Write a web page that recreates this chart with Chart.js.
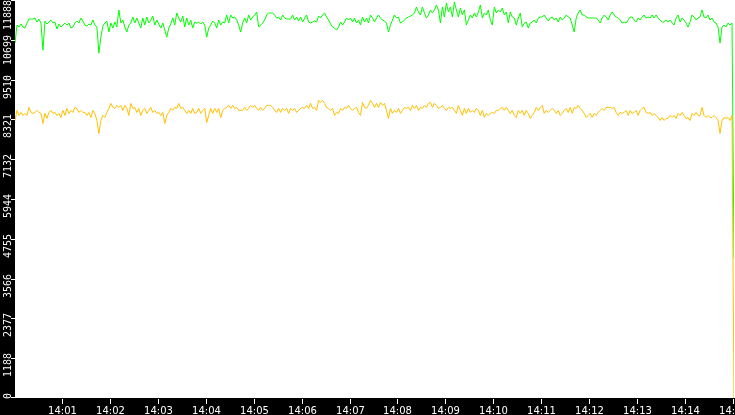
<!DOCTYPE html>
<html>
<head>
<meta charset="utf-8">
<script src="https://cdn.jsdelivr.net/npm/chart.js@4.4.1/dist/chart.umd.min.js"></script>
<style>
html,body{margin:0;padding:0;background:#fff;overflow:hidden;}
canvas{display:block;}
</style>
</head>
<body>
<canvas id="c" width="735" height="415"></canvas>
<script>
// ---- data ----
const startTime = '14:00:00';
const sampleSeconds = 2.5;
const yTickLabels = ['0','1188','2377','3566','4755','5944','7132','8321','9510','10699','11888'];
const xTickLabels = ['14:01','14:02','14:03','14:04','14:05','14:06','14:07','14:08','14:09','14:10','14:11','14:12','14:13','14:14','14:15'];

const greenValues = [
10600,11140,11080,11170,11080,11050,11200,11320,11320,11320,
11350,11230,11320,11200,10390,11260,11170,11230,11290,11200,
11230,11020,11170,11080,11140,11200,11140,11200,11050,11080,
11200,11260,11200,11350,11260,11140,11110,11170,11140,11290,
11140,11080,10300,10780,11110,11200,11260,10930,11200,11050,
11230,11080,11590,11200,11290,11080,10930,11140,11200,11380,
11200,11350,11200,11050,11350,11140,11380,11200,11290,11410,
11140,11290,11170,11050,11200,10990,10780,11050,11170,11350,
11140,11500,11350,11230,11410,11080,11350,11140,11290,11050,
11230,11200,11230,11170,11230,11140,10780,11050,11140,11260,
11200,11050,11290,11140,11230,11200,11440,11200,11440,11350,
11380,11290,11140,10930,11200,11350,11200,11440,11290,11380,
11440,11530,11080,11140,11200,11290,11440,11500,11500,11500,
11440,11350,11380,11290,11440,11350,11320,11320,11320,11440,
11290,11380,11260,11380,11230,11350,11440,11230,11200,11230,
11260,11230,11410,11350,11440,11500,11380,11290,11170,11080,
11050,10990,11080,11230,11140,11230,11350,11290,11350,11230,
11350,11200,11290,11140,11380,11230,11350,11200,11440,11350,
11230,11350,11440,11350,11290,11260,11200,10930,11140,11290,
11440,11350,11380,11200,11230,11290,11350,11380,11410,11440,
11500,11680,11530,11440,11680,11500,11350,11440,11590,11500,
11590,11740,11590,11200,11680,11380,11800,11530,11680,11380,
11830,11590,11380,11650,11440,11590,11140,11290,11440,11350,
11500,11380,11530,11740,11350,11500,11440,11590,11290,11140,
11680,11500,11590,11530,11650,11440,11530,11200,11530,11380,
11350,11140,11350,11500,11080,11200,11230,11050,11200,11230,
11290,11200,11350,11380,11380,11440,11350,11260,11350,11380,
11290,11350,11230,11380,11290,11350,11440,11380,11350,11140,
10930,11350,11500,11590,11440,11440,11380,11350,11350,11350,
11350,11350,11290,11200,11350,11440,11380,11290,11440,11530,
11440,11380,11350,11290,11200,11230,11200,11290,11380,11380,
11290,11230,11350,11290,11380,11440,11350,11380,11350,11440,
11350,11440,11350,11290,11230,11230,11290,11230,11290,11200,
11140,11350,11440,11230,11350,11290,11200,11080,11230,11440,
11380,11290,11350,11380,11590,11380,11350,11440,11290,11350,
11230,11200,11080,10600,11080,11140,11080,11200,11140,11200,
4160
];

const yellowValues = [
8290,8590,8440,8530,8440,8500,8440,8680,8530,8500,
8530,8590,8530,8500,8200,8500,8350,8530,8590,8500,
8530,8440,8500,8380,8590,8440,8650,8500,8590,8530,
8680,8650,8530,8590,8530,8530,8440,8530,8380,8590,
8500,8290,7900,8290,8440,8380,8530,8650,8800,8680,
8650,8740,8680,8740,8590,8740,8650,8440,8800,8650,
8680,8530,8650,8440,8590,8650,8500,8590,8680,8530,
8590,8500,8530,8440,8530,8200,8440,8530,8650,8590,
8680,8650,8800,8650,8680,8590,8500,8590,8500,8650,
8500,8530,8650,8500,8590,8650,8230,8440,8650,8500,
8650,8530,8650,8380,8590,8650,8680,8740,8650,8740,
8650,8680,8590,8590,8590,8680,8590,8650,8740,8680,
8740,8650,8590,8680,8590,8650,8740,8740,8740,8680,
8590,8530,8650,8530,8650,8590,8650,8500,8650,8590,
8650,8530,8590,8650,8680,8650,8740,8650,8800,8650,
8680,8590,8890,8830,8890,8800,8680,8650,8590,8650,
8440,8530,8500,8650,8590,8680,8650,8740,8650,8590,
8650,8680,8530,8440,8830,8680,8650,8740,8890,8800,
8680,8800,8680,8830,8740,8800,8590,8350,8650,8500,
8590,8530,8650,8500,8590,8680,8650,8680,8590,8740,
8650,8740,8590,8680,8650,8740,8680,8800,8830,8680,
8800,8740,8650,8680,8740,8650,8590,8680,8650,8680,
8590,8500,8740,8590,8440,8650,8500,8650,8530,8590,
8530,8650,8590,8440,8590,8380,8500,8440,8500,8530,
8500,8590,8590,8650,8680,8590,8680,8590,8500,8590,
8440,8380,8590,8500,8590,8440,8590,8500,8350,8440,
8530,8680,8590,8680,8740,8500,8590,8530,8590,8650,
8590,8500,8590,8440,8500,8590,8650,8530,8680,8500,
8680,8650,8740,8650,8590,8500,8380,8440,8500,8380,
8500,8440,8530,8590,8650,8590,8680,8680,8680,8650,
8680,8530,8440,8530,8500,8530,8590,8440,8590,8500,
8530,8590,8440,8590,8650,8680,8530,8500,8530,8440,
8500,8440,8380,8290,8380,8290,8350,8350,8440,8380,
8440,8350,8500,8440,8530,8440,8350,8380,8290,8500,
8440,8530,8440,8440,8680,8440,8380,8440,8380,8380,
8440,8380,8290,7900,8290,8380,8350,8380,8290,8440,
0
];

// ---- helpers ----
function toSeconds(t){ const p=t.split(':').map(Number); return p[0]*3600+p[1]*60+(p[2]||0); }
const t0 = toSeconds(startTime);
const toPoints = arr => arr.map((v,i)=>({x:i*sampleSeconds, y:v}));
const yMax = Number(yTickLabels[yTickLabels.length-1]);
const xMax = (greenValues.length-1)*sampleSeconds;

const axisPlugin = {
  id:'blackAxes',
  beforeDraw(chart){
    const ctx=chart.ctx;
    ctx.save();
    ctx.fillStyle='#ffffff';
    ctx.fillRect(0,0,chart.width,chart.height);
    ctx.restore();
  },
  afterDraw(chart){
    const ctx=chart.ctx, a=chart.chartArea;
    const xs=chart.scales.x, ys=chart.scales.y;
    ctx.save();
    ctx.fillStyle='#000000';
    ctx.fillRect(0,0,a.left,chart.height);
    ctx.fillRect(0,a.bottom,chart.width,chart.height-a.bottom);
    ctx.fillStyle='#ffffff';
    // y axis
    ctx.font='10px "DejaVu Sans Mono"';
    ctx.textBaseline='alphabetic';
    yTickLabels.forEach(lbl=>{
      const py=Math.round(ys.getPixelForValue(Number(lbl)));
      ctx.fillRect(a.left-4, Math.min(py, a.bottom-1), 4, 1);
      let end=py-5;
      if(end<0) end=0;
      ctx.save();
      ctx.translate(10.5,end);
      ctx.rotate(-Math.PI/2);
      ctx.textAlign='right';
      ctx.fillText(lbl,0,0);
      ctx.restore();
    });
    // x axis
    ctx.font='10px "DejaVu Sans"';
    ctx.textAlign='center';
    xTickLabels.forEach(lbl=>{
      const sec=toSeconds(lbl)-t0;
      const px=Math.round(xs.getPixelForValue(sec));
      ctx.fillRect(px-1, a.bottom+1, 1, 5);
      ctx.fillText(lbl, px-0.5, chart.height-1.5);
    });
    ctx.restore();
  }
};

new Chart(document.getElementById('c'),{
  type:'line',
  data:{datasets:[
    {label:'yellow', data:toPoints(yellowValues), borderColor:'#ffc000', borderWidth:1, pointRadius:0, fill:false, tension:0, order:0},
    {label:'green', data:toPoints(greenValues), borderColor:'#00ff00', borderWidth:1, pointRadius:0, fill:false, tension:0, order:1}
  ]},
  options:{
    animation:false, responsive:false, devicePixelRatio:1, events:[],
    layout:{padding:{left:15,right:1,top:0,bottom:17}},
    plugins:{legend:{display:false}, tooltip:{enabled:false}},
    scales:{
      x:{type:'linear', min:0, max:xMax, display:false},
      y:{type:'linear', min:0, max:yMax, display:false}
    }
  },
  plugins:[axisPlugin]
});
</script>
</body>
</html>
